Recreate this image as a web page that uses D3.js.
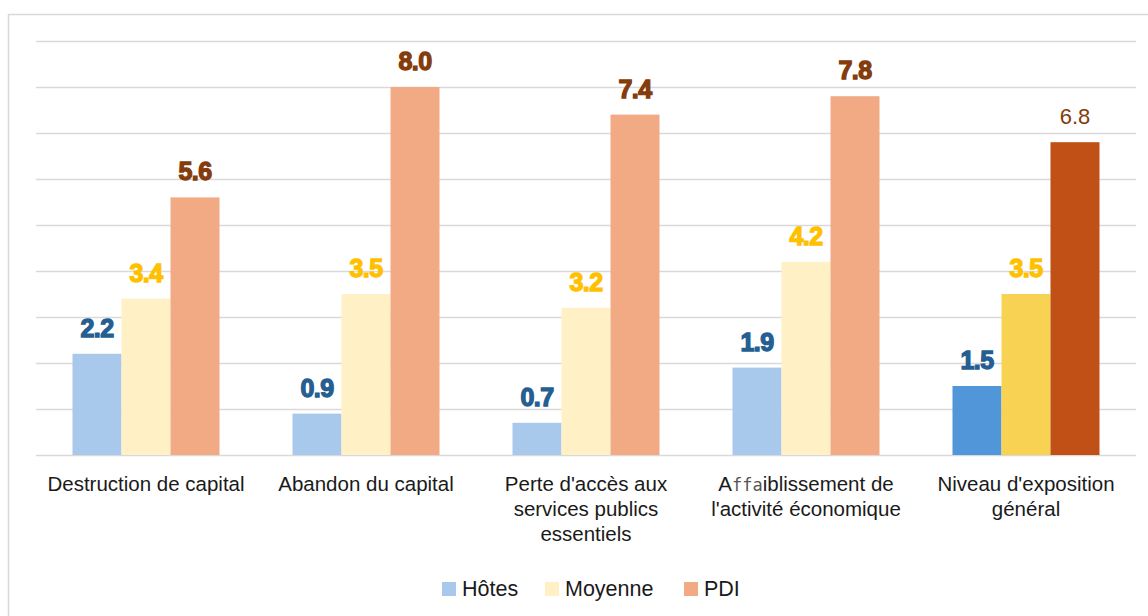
<!DOCTYPE html>
<html>
<head>
<meta charset="utf-8">
<script src="https://cdn.jsdelivr.net/npm/d3@7"></script>
<style>
  body { margin: 0; background: #fff; }
  svg { display: block; font-family: "Liberation Sans", Arial, sans-serif; }
</style>
</head>
<body>
<svg id="chart" width="1148" height="616"></svg>
<script>
// Data
const categories = [
  "Destruction de capital",
  "Abandon du capital",
  "Perte d'accès aux services publics essentiels",
  "Affaiblissement de l'activité économique",
  "Niveau d'exposition général"
];
const category_lines = [
  ["Destruction de capital"],
  ["Abandon du capital"],
  ["Perte d'accès aux", "services publics", "essentiels"],
  ["Affaiblissement de", "l'activité économique"],
  ["Niveau d'exposition", "général"]
];
const series = ["Hôtes", "Moyenne", "PDI"];
const hotes = [2.2, 0.9, 0.7, 1.9, 1.5];
const moyenne = [3.4, 3.5, 3.2, 4.2, 3.5];
const pdi = [5.6, 8.0, 7.4, 7.8, 6.8];
const y_ticks = [0, 1, 2, 3, 4, 5, 6, 7, 8, 9];

const values = [hotes, moyenne, pdi];

// Colours: light for the sub-dimensions, dark for the overall level
const light = ["#a9c9ec", "#fff0c6", "#f2aa84"];
const dark = ["#5096d9", "#f8d353", "#c05015"];
const label_color = ["#255e91", "#ffc000", "#843c0c"];

const svg = d3.select("#chart");

// Frame
svg.append("path")
  .attr("d", "M8.5,616 V14.5 H1148")
  .attr("fill", "none")
  .attr("stroke", "#d9d9d9")
  .attr("stroke-width", 1.5);

const x0 = d3.scaleBand().domain(categories).range([36, 1136]).padding(0);
const x1 = d3.scaleBand().domain(series).range([36.5, 183.5]).padding(0);
const y = d3.scaleLinear().domain([0, 9]).range([455, 41]);

// Gridlines
const grid = svg.append("g")
  .attr("transform", "translate(36,0)")
  .call(d3.axisLeft(y).tickValues(y_ticks).tickSize(-1100).tickFormat(""));
grid.select(".domain").remove();
grid.selectAll(".tick line")
  .attr("stroke", "#d9d9d9")
  .attr("stroke-width", 1.5);

// Bars
const groups = svg.append("g")
  .selectAll("g")
  .data(categories)
  .join("g")
  .attr("transform", d => "translate(" + x0(d) + ",0)");

const cells = (c, i) => series.map((s, j) => ({ s: s, j: j, v: values[j][i], last: i === categories.length - 1 }));

groups.selectAll("rect")
  .data(cells)
  .join("rect")
  .attr("x", d => x1(d.s))
  .attr("width", x1.bandwidth())
  .attr("y", d => y(d.v))
  .attr("height", d => y(0) - y(d.v))
  .attr("fill", d => d.last ? dark[d.j] : light[d.j]);

// Value labels
groups.selectAll("text.value")
  .data(cells)
  .join("text")
  .attr("class", "value")
  .attr("x", d => x1(d.s) + x1.bandwidth() / 2)
  .attr("y", d => y(d.v) - 17)
  .attr("text-anchor", "middle")
  .attr("fill", d => label_color[d.j])
  .each(function (d) {
    const t = d3.select(this);
    if (d.last && d.j === 2) {
      t.attr("dy", -1).style("font-size", "22px").style("font-weight", "normal");
    } else {
      t.style("font-size", "25px")
        .style("font-weight", "bold")
        .style("letter-spacing", "-0.6px")
        .attr("stroke", label_color[d.j])
        .attr("stroke-width", 1.3);
    }
  })
  .text(d => d.v.toFixed(1));

// Category labels
const cat_labels = svg.append("g")
  .selectAll("text")
  .data(categories)
  .join("text")
  .attr("x", d => x0(d) + x0.bandwidth() / 2)
  .attr("y", 491)
  .attr("text-anchor", "middle")
  .attr("fill", "#1a1a1a")
  .style("font-size", "20.5px");

cat_labels.each(function (d, i) {
  const t = d3.select(this);
  category_lines[i].forEach((line, k) => {
    const ts = t.append("tspan")
      .attr("x", x0(d) + x0.bandwidth() / 2)
      .attr("dy", k === 0 ? 0 : 25);
    if (line.startsWith("Affaiblissement")) {
      // the source shows the "ffa" glyphs in a fallback font
      ts.append("tspan").text("A");
      ts.append("tspan")
        .style("font-family", "'DejaVu Sans Mono', monospace")
        .style("font-size", "17px")
        .attr("fill", "#555")
        .text("ffa");
      ts.append("tspan").text(line.slice(4));
    } else {
      ts.text(line);
    }
  });
});

// Legend
const legend_x = [442, 545, 684];
const legend = svg.append("g")
  .selectAll("g")
  .data(series)
  .join("g")
  .attr("transform", (d, i) => "translate(" + legend_x[i] + ",582)");

legend.append("rect")
  .attr("width", 14)
  .attr("height", 14)
  .attr("fill", (d, i) => light[i]);

legend.append("text")
  .attr("x", 20)
  .attr("y", 14)
  .attr("fill", "#1a1a1a")
  .style("font-size", "21.5px")
  .text(d => d);
</script>
</body>
</html>
